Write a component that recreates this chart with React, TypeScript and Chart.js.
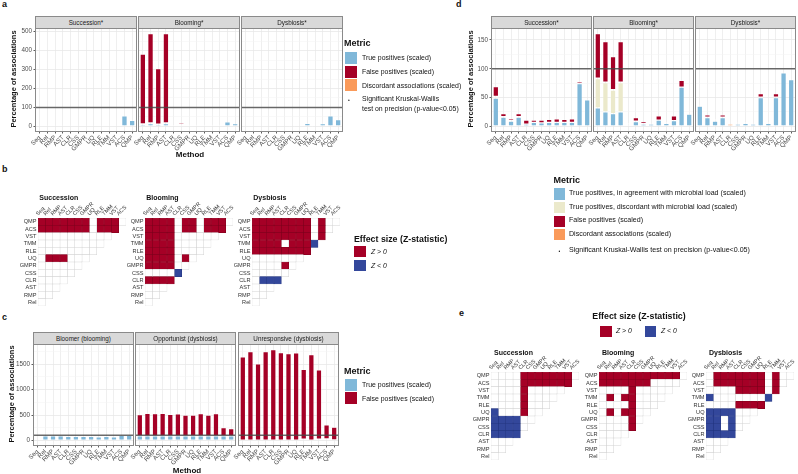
import React, { useEffect, useRef } from 'react';
import { Chart, registerables } from 'chart.js';
Chart.register(...registerables);

const FONT = '"Liberation Sans", Arial, Helvetica, sans-serif';

// ---------- categories ----------
const methods = ['Seq', 'Rel', 'RMP', 'AST', 'CLR', 'CSS', 'GMPR', 'UQ', 'RLE', 'TMM', 'VST', 'ACS', 'QMP'];
const heatCols = ['Seq', 'Rel', 'RMP', 'AST', 'CLR', 'CSS', 'GMPR', 'UQ', 'RLE', 'TMM', 'VST', 'ACS'];
const heatRows = ['QMP', 'ACS', 'VST', 'TMM', 'RLE', 'UQ', 'GMPR', 'CSS', 'CLR', 'AST', 'RMP', 'Rel'];
const scenarioStrips = ['Succession*', 'Blooming*', 'Dysbiosis*'];
const behaviourStrips = ['Bloomer (blooming)', 'Opportunist (dysbiosis)', 'Unresponsive (dysbiosis)'];
const heatTitles = ['Succession', 'Blooming', 'Dysbiosis'];

// ---------- tick labels ----------
const aYTicks = [0, 100, 200, 300, 400, 500];
const cYTicks = [0, 500, 1000, 1500];
const dYTicks = [0, 50, 100, 150];

// ---------- panel a (scaled, relative data) ----------
const aSuccTP = [4, 5, 4, 5, 4, 4, 4, 5, 5, 5, 5, 55, 32];
const aSuccDisc = [1, 0, 1, 0, 1, 1, 1, 1, 1, 1, 1, 1, 1];
const aSuccFP = [1, 3, 1, 3, 1, 1, 1, 1, 1, 1, 1, 1, 0];
const aBloomTP = [10, 14, 10, 14, 8, 8, 9, 9, 9, 9, 9, 24, 14];
const aBloomDisc = [3, 4, 2, 4, 0, 2, 2, 1, 1, 1, 1, 1, 1];
const aBloomFP = [369, 472, 293, 472, 0, 8, 3, 3, 3, 4, 3, 0, 0];
const aDysTP = [1, 2, 1, 2, 0, 0, 0, 0, 16, 0, 15, 55, 35];
const aDysDisc = [1, 2, 1, 2, 1, 1, 1, 1, 3, 1, 3, 3, 2];
const aDysFP = [1, 1, 1, 1, 1, 1, 1, 1, 2, 2, 3, 2, 1];

// ---------- panel c (taxon behaviour) ----------
const cBloomerTP = [10, 88, 88, 88, 78, 78, 78, 80, 70, 82, 70, 97, 97];
const cBloomerFP = [0, 0, 0, 0, 0, 0, 0, 0, 0, 0, 0, 0, 0];
const cOppTP = [92, 92, 92, 92, 92, 92, 92, 92, 92, 92, 92, 92, 92];
const cOppFP = [415, 442, 435, 442, 422, 428, 408, 408, 435, 408, 435, 162, 142];
const cUnrTP = [8, 8, 8, 8, 8, 8, 8, 8, 25, 8, 25, 30, 10];
const cUnrFP = [1635, 1740, 1500, 1740, 1780, 1721, 1701, 1712, 1372, 1682, 1365, 276, 251];

// ---------- panel d (with microbial load) ----------
const dSuccTP = [49, 16, 9, 16, 4, 7, 6, 7, 7, 7, 7, 74, 46];
const dSuccTPd = [2, 0, 0, 0, 0, 0, 0, 0, 0, 0, 0, 0, 0];
const dSuccDisc = [1, 1, 1, 1, 0, 0, 0, 0, 0, 0, 0, 1, 2];
const dSuccFP = [17, 5, 3, 5, 7, 4, 5, 5, 6, 5, 6, 3, 0];
const dBloomTP = [32, 25, 22, 25, 3, 8, 4, 4, 11, 5, 10, 68, 21];
const dBloomTPd = [51, 51, 41, 51, 0, 1, 0, 0, 0, 0, 0, 0, 0];
const dBloomDisc = [1, 1, 1, 1, 1, 0, 1, 1, 0, 1, 0, 0, 1];
const dBloomFP = [77, 70, 57, 70, 2, 6, 3, 1, 7, 2, 8, 12, 0];
const dDysTP = [35, 15, 9, 15, 1, 4, 5, 4, 50, 5, 50, 93, 81];
const dDysTPd = [0, 0, 0, 0, 0, 0, 0, 0, 0, 0, 0, 0, 0];
const dDysDisc = [1, 1, 2, 1, 3, 1, 1, 1, 1, 1, 1, 1, 1];
const dDysFP = [2, 4, 2, 4, 0, 2, 2, 1, 6, 2, 6, 1, 0];

// ---------- heatmaps: r = Z>0, b = Z<0, . = n.s. (rows QMP..Rel) ----------
const bSucc = ['rrrrrrr.rrr.', 'rrrrrrr.rrr', '..........', '.........', '........', '.rrr...', '......', '.....', '....', '...', '..', '.'];
const bBloom = ['rrrr.rr.rrr.', 'rrrr.rr.rrr', 'rrrr......', 'rrrr.....', 'rrrr....', 'rrrr.r.', 'rrrr..', '....b', 'rrrr', '...', '..', '.'];
const bDys = ['rrrrrrrr.r..', 'rrrrrrrr.r.', 'rrrrrrrr.r', 'rrrr.rrrb', 'rrrrrrrr', '.......', '....r.', '.....', '.bbb', '...', '..', '.'];
const eSucc = ['....rrrrrrr.', '....rrrrrrr', '....r.....', '....r....', '....r...', 'b...r..', 'bbbb..', 'bbbb.', 'bbbb', '...', '..', '.'];
const eBloom = ['rrrrrrrrrrr.', 'rrrrrrr....', '....r.....', '.r.rr....', '....r...', '.r.rr..', '....r.', '....r', '....', '...', '..', '.'];
const eDys = ['.rrrrrrr.r..', '.rrrrrrr.r.', '....rrrr.r', 'b.......b', '....rrrr', 'bbbb...', 'bb.b..', 'bb.b.', 'bbbb', '...', '..', '.'];

// ---------- colours ----------
const C_TP = '#80B8D9';
const C_TPD = '#EBE9CB';
const C_FP = '#A50026';
const C_DISC = '#FA9A5A';
const C_RED = '#A50026';
const C_BLUE = '#33479B';
const C_FRAME = '#8a8a8a';

type Seg = { label: string; color: string; data: number[] };

const framePlugin = (refVal: number | null) => ({
  id: 'frame',
  afterDatasetsDraw(chart: any) {
    if (refVal == null) return;
    const { ctx, chartArea: a, scales } = chart;
    const py = scales.y.getPixelForValue(refVal);
    ctx.save();
    ctx.strokeStyle = 'rgba(70,70,70,0.8)';
    ctx.lineWidth = 1.5;
    ctx.beginPath();
    ctx.moveTo(a.left, py);
    ctx.lineTo(a.right, py);
    ctx.stroke();
    ctx.restore();
  },
  afterDraw(chart: any) {
    const { ctx, chartArea: a } = chart;
    ctx.save();
    ctx.strokeStyle = C_FRAME;
    ctx.lineWidth = 1;
    ctx.strokeRect(a.left - 0.5, a.top - 0.5, a.right - a.left + 1, a.bottom - a.top + 1);
    ctx.restore();
  },
});

function BarFacet(props: { x: number; y: number; w: number; h: number; showY: boolean; yMin: number; yMax: number; majors: number[]; segs: Seg[] }) {
  const { x, y, w, h, showY, yMin, yMax, majors, segs } = props;
  const ref = useRef<HTMLCanvasElement>(null);
  const PL = 24, PR = 4, PT = 2, XH = 26;
  const YW = showY ? 22 : 0;
  const cw = PL + w + PR, ch = PT + h + XH;
  useEffect(() => {
    const step = majors[1] - majors[0];
    const all: number[] = [];
    majors.forEach((m) => { all.push(m); all.push(m + step / 2); });
    const ticksAll = all.filter((v) => v >= yMin && v <= yMax);
    const isMajor = (v: number) => majors.includes(v);
    const chart = new Chart(ref.current!, {
      type: 'bar',
      data: {
        labels: methods,
        datasets: segs.map((s) => ({
          label: s.label,
          data: s.data.map((v) => (v === 0 ? null : v)),
          backgroundColor: s.color,
          borderColor: 'rgba(255,255,255,0.45)',
          borderWidth: 0.6,
          borderSkipped: false,
          barPercentage: 0.72,
          categoryPercentage: 1,
        })) as any,
      },
      options: {
        responsive: false,
        animation: false,
        devicePixelRatio: 1,
        events: [],
        layout: { padding: { left: PL - YW, right: PR, top: PT, bottom: 0 } },
        plugins: { legend: { display: false }, tooltip: { enabled: false } },
        scales: {
          x: {
            stacked: true,
            grid: { offset: false, color: '#ebebeb', lineWidth: 0.8, drawTicks: true, tickLength: 2.5, tickColor: '#333' },
            border: { display: false },
            ticks: { minRotation: 45, maxRotation: 45, autoSkip: false, padding: 0.5, font: { family: FONT, size: 6.3 }, color: '#4d4d4d' },
            afterFit: (s: any) => { s.height = XH; s.paddingLeft = 0; s.paddingRight = 0; },
          },
          y: {
            stacked: true,
            min: yMin,
            max: yMax,
            afterBuildTicks: (s: any) => { s.ticks = ticksAll.map((v) => ({ value: v })); },
            afterFit: (s: any) => { s.width = YW; s.paddingTop = 0; s.paddingBottom = 0; },
            ticks: { display: showY, padding: 1.5, font: { family: FONT, size: 6.3 }, color: '#4d4d4d', callback: (v: any) => (isMajor(v) ? String(v) : '') },
            grid: {
              color: (c: any) => (isMajor(c.tick?.value) ? '#e8e8e8' : '#f3f3f3'),
              lineWidth: (c: any) => (isMajor(c.tick?.value) ? 0.8 : 0.5),
              drawTicks: showY,
              tickLength: 2.5,
              tickColor: (c: any) => (isMajor(c.tick?.value) ? '#333' : 'rgba(0,0,0,0)'),
            },
            border: { display: false },
          },
        },
      } as any,
      plugins: [framePlugin(100)],
    });
    return () => chart.destroy();
  }, []);
  return <canvas ref={ref} width={cw} height={ch} style={{ position: 'absolute', left: x - PL, top: y - PT, width: cw, height: ch }} />;
}

function Heat(props: { gx: number; gy: number; cells: string[] }) {
  const { gx, gy, cells } = props;
  const ref = useRef<HTMLCanvasElement>(null);
  const G = 88, LW = 30, TH = 22, PR = 24, PB = 2;
  const cw = LW + G + PR, ch = TH + G + PB;
  useEffect(() => {
    const fill = (ch: string | undefined) => (ch === 'r' ? C_RED : ch === 'b' ? C_BLUE : '#ffffff');
    const edge = (ch: string | undefined) => (ch === 'r' ? '#7d001d' : ch === 'b' ? '#243680' : '#d2d2d2');
    const chart = new Chart(ref.current!, {
      type: 'bar',
      data: {
        labels: heatRows,
        datasets: heatCols.map((col, c) => ({
          label: col,
          data: heatRows.map((_, i) => (c < heatCols.length - i ? [c, c + 1] : null)),
          backgroundColor: heatRows.map((_, i) => fill(cells[i][c])),
          borderColor: heatRows.map((_, i) => edge(cells[i][c])),
          borderWidth: 0.5,
          borderSkipped: false,
          grouped: false,
          barPercentage: 1,
          categoryPercentage: 1,
        })) as any,
      },
      options: {
        indexAxis: 'y',
        responsive: false,
        animation: false,
        devicePixelRatio: 1,
        events: [],
        layout: { padding: { left: 0, right: PR, top: 0, bottom: PB } },
        plugins: { legend: { display: false }, tooltip: { enabled: false } },
        scales: {
          x: {
            type: 'linear',
            position: 'top',
            min: 0,
            max: heatCols.length,
            afterBuildTicks: (s: any) => { s.ticks = heatCols.map((_, i) => ({ value: i + 0.5 })); },
            afterFit: (s: any) => { s.height = TH; s.paddingLeft = 0; s.paddingRight = 0; },
            ticks: { minRotation: 45, maxRotation: 45, autoSkip: false, padding: 1, font: { family: FONT, size: 5.5 }, color: '#333', callback: (_v: any, i: number) => heatCols[i] },
            grid: { display: false, drawTicks: false },
            border: { display: false },
          },
          y: {
            type: 'category',
            afterFit: (s: any) => { s.width = LW; s.paddingTop = 0; s.paddingBottom = 0; },
            ticks: { padding: 1.5, font: { family: FONT, size: 5.6 }, color: '#333', autoSkip: false },
            grid: { display: false, drawTicks: false },
            border: { display: false },
          },
        },
      } as any,
    });
    return () => chart.destroy();
  }, []);
  return <canvas ref={ref} width={cw} height={ch} style={{ position: 'absolute', left: gx - LW, top: gy - TH, width: cw, height: ch }} />;
}

function Txt(p: { x: number; y: number; children: any; size?: number; bold?: boolean; italic?: boolean; align?: 'left' | 'center' | 'right'; color?: string; rot?: number }) {
  const tx = p.align === 'center' ? '-50%' : p.align === 'right' ? '-100%' : '0';
  return (
    <div
      style={{
        position: 'absolute', left: p.x, top: p.y,
        transform: `translate(${tx},-50%)` + (p.rot ? ` rotate(${p.rot}deg)` : ''),
        fontSize: p.size ?? 6.5, fontWeight: p.bold ? 700 : 400, fontStyle: p.italic ? 'italic' : 'normal',
        color: p.color ?? '#111111', whiteSpace: 'nowrap', lineHeight: 1, fontFamily: FONT,
      }}
    >
      {p.children}
    </div>
  );
}

function Box(p: { x: number; y: number; w: number; h: number; color: string }) {
  return <div style={{ position: 'absolute', left: p.x, top: p.y, width: p.w, height: p.h, background: p.color }} />;
}

function Strip(p: { x: number; y: number; w: number; label: string }) {
  return (
    <div style={{ position: 'absolute', left: p.x - 1, top: p.y, width: p.w + 2, height: 13, boxSizing: 'border-box', background: '#d9d9d9', border: `1px solid ${C_FRAME}` }}>
      <Txt x={(p.w + 2) / 2 - 1} y={5.5} align="center" size={6.3} color="#1a1a1a">{p.label}</Txt>
    </div>
  );
}

export default function App() {
  const aX = [36, 139, 242];
  const dX = [492, 594, 696];
  const cX = [34, 136, 239];
  const aSegs: Seg[][] = [
    [{ label: 'TP', color: C_TP, data: aSuccTP }, { label: 'Disc', color: C_DISC, data: aSuccDisc }, { label: 'FP', color: C_FP, data: aSuccFP }],
    [{ label: 'TP', color: C_TP, data: aBloomTP }, { label: 'Disc', color: C_DISC, data: aBloomDisc }, { label: 'FP', color: C_FP, data: aBloomFP }],
    [{ label: 'TP', color: C_TP, data: aDysTP }, { label: 'Disc', color: C_DISC, data: aDysDisc }, { label: 'FP', color: C_FP, data: aDysFP }],
  ];
  const cSegs: Seg[][] = [
    [{ label: 'TP', color: C_TP, data: cBloomerTP }, { label: 'FP', color: C_FP, data: cBloomerFP }],
    [{ label: 'TP', color: C_TP, data: cOppTP }, { label: 'FP', color: C_FP, data: cOppFP }],
    [{ label: 'TP', color: C_TP, data: cUnrTP }, { label: 'FP', color: C_FP, data: cUnrFP }],
  ];
  const dSegs: Seg[][] = [
    [{ label: 'TP', color: C_TP, data: dSuccTP }, { label: 'TPd', color: C_TPD, data: dSuccTPd }, { label: 'Disc', color: C_DISC, data: dSuccDisc }, { label: 'FP', color: C_FP, data: dSuccFP }],
    [{ label: 'TP', color: C_TP, data: dBloomTP }, { label: 'TPd', color: C_TPD, data: dBloomTPd }, { label: 'Disc', color: C_DISC, data: dBloomDisc }, { label: 'FP', color: C_FP, data: dBloomFP }],
    [{ label: 'TP', color: C_TP, data: dDysTP }, { label: 'TPd', color: C_TPD, data: dDysTPd }, { label: 'Disc', color: C_DISC, data: dDysDisc }, { label: 'FP', color: C_FP, data: dDysFP }],
  ];
  const bGX = [38, 145, 252];
  const eGX = [491, 599, 706];
  const bCells = [bSucc, bBloom, bDys];
  const eCells = [eSucc, eBloom, eDys];

  return (
    <div style={{ position: 'absolute', left: 0, top: 0, width: 798, height: 474, background: '#fff', overflow: 'hidden', fontFamily: FONT }}>
      {/* charts */}
      {aX.map((x, i) => <BarFacet key={'a' + i} x={x} y={29} w={100} h={102} showY={i === 0} yMin={-24.5} yMax={514.5} majors={aYTicks} segs={aSegs[i]} />)}
      {bGX.map((gx, i) => <Heat key={'b' + i} gx={gx} gy={218} cells={bCells[i]} />)}
      {cX.map((x, i) => <BarFacet key={'c' + i} x={x} y={345} w={99} h={100} showY={i === 0} yMin={-89.4} yMax={1877.4} majors={cYTicks} segs={cSegs[i]} />)}
      {dX.map((x, i) => <BarFacet key={'d' + i} x={x} y={29} w={99} h={102} showY={i === 0} yMin={-8.05} yMax={169.05} majors={dYTicks} segs={dSegs[i]} />)}
      {eGX.map((gx, i) => <Heat key={'e' + i} gx={gx} gy={372} cells={eCells[i]} />)}

      {/* panel letters */}
      <Txt x={2} y={4} size={9} bold>a</Txt>
      <Txt x={2} y={169} size={9} bold>b</Txt>
      <Txt x={2} y={317} size={9} bold>c</Txt>
      <Txt x={456} y={4} size={9} bold>d</Txt>
      <Txt x={459} y={313} size={9} bold>e</Txt>

      {/* panel a */}
      {aX.map((x, i) => <Strip key={'as' + i} x={x} y={16} w={100} label={scenarioStrips[i]} />)}
      <Txt x={14} y={79} size={7.5} bold align="center" rot={-90}>Percentage of associations</Txt>
      <Txt x={190} y={155} size={8} bold align="center">Method</Txt>
      <Txt x={344} y={43} size={9} bold>Metric</Txt>
      <Box x={345} y={52} w={12} h={12} color={C_TP} />
      <Box x={345} y={66} w={12} h={12} color={C_FP} />
      <Box x={345} y={79} w={12} h={12} color={C_DISC} />
      <Txt x={362} y={58} size={6.9}>True positives (scaled)</Txt>
      <Txt x={362} y={72} size={6.9}>False positives (scaled)</Txt>
      <Txt x={362} y={85.5} size={6.9}>Discordant associations (scaled)</Txt>
      <Txt x={349} y={99.5} size={5} align="center">•</Txt>
      <Txt x={362} y={99.3} size={6.9}>Significant Kruskal-Wallis</Txt>
      <Txt x={362} y={108.5} size={6.9}>test on precision (p-value&lt;0.05)</Txt>

      {/* panel b */}
      {bGX.map((gx, i) => <Txt key={'bt' + i} x={gx + 1.3} y={197} size={7} bold>{heatTitles[i]}</Txt>)}
      <Txt x={354} y={238.5} size={8.8} bold>Effect size (Z-statistic)</Txt>
      <Box x={354} y={246} w={12} h={11} color={C_RED} />
      <Box x={354} y={260} w={12} h={11} color={C_BLUE} />
      <Txt x={371} y={252} size={6.9} italic>Z &gt; 0</Txt>
      <Txt x={371} y={266} size={6.9} italic>Z &lt; 0</Txt>

      {/* panel c */}
      {cX.map((x, i) => <Strip key={'cs' + i} x={x} y={332} w={99} label={behaviourStrips[i]} />)}
      <Txt x={11.5} y={394} size={7.5} bold align="center" rot={-90}>Percentage of associations</Txt>
      <Txt x={187} y={471} size={8} bold align="center">Method</Txt>
      <Txt x={344} y={371} size={9} bold>Metric</Txt>
      <Box x={345} y={379} w={12} h={12} color={C_TP} />
      <Box x={345} y={392} w={12} h={12} color={C_FP} />
      <Txt x={362} y={385} size={6.9}>True positives (scaled)</Txt>
      <Txt x={362} y={398.5} size={6.9}>False positives (scaled)</Txt>

      {/* panel d */}
      {dX.map((x, i) => <Strip key={'ds' + i} x={x} y={16} w={99} label={scenarioStrips[i]} />)}
      <Txt x={470.5} y={79} size={7.5} bold align="center" rot={-90}>Percentage of associations</Txt>
      <Txt x={553.5} y={179.5} size={9} bold>Metric</Txt>
      <Box x={554} y={188} w={11} h={12} color={C_TP} />
      <Box x={554} y={202} w={11} h={11} color={C_TPD} />
      <Box x={554} y={215.5} w={11} h={11} color={C_FP} />
      <Box x={554} y={229} w={11} h={11} color={C_DISC} />
      <Txt x={569} y={194} size={7.1}>True positives, in agreement with microbial load (scaled)</Txt>
      <Txt x={569} y={207.5} size={7.1}>True positives, discordant with microbial load (scaled)</Txt>
      <Txt x={569} y={221} size={7.1}>False positives (scaled)</Txt>
      <Txt x={569} y={234.5} size={7.1}>Discordant associations (scaled)</Txt>
      <Txt x={559.5} y={251} size={5} align="center">•</Txt>
      <Txt x={569} y={251} size={7.1}>Significant Kruskal-Wallis test on precision (p-value&lt;0.05)</Txt>

      {/* panel e */}
      <Txt x={639} y={316} size={8.8} bold align="center">Effect size (Z-statistic)</Txt>
      <Box x={600} y={325.5} w={11.5} h={11} color={C_RED} />
      <Box x={644.5} y={325.5} w={11.5} h={11} color={C_BLUE} />
      <Txt x={616} y={331} size={6.9} italic>Z &gt; 0</Txt>
      <Txt x={661} y={331} size={6.9} italic>Z &lt; 0</Txt>
      {eGX.map((gx, i) => <Txt key={'et' + i} x={gx + 3} y={351.7} size={7} bold>{heatTitles[i]}</Txt>)}
    </div>
  );
}
